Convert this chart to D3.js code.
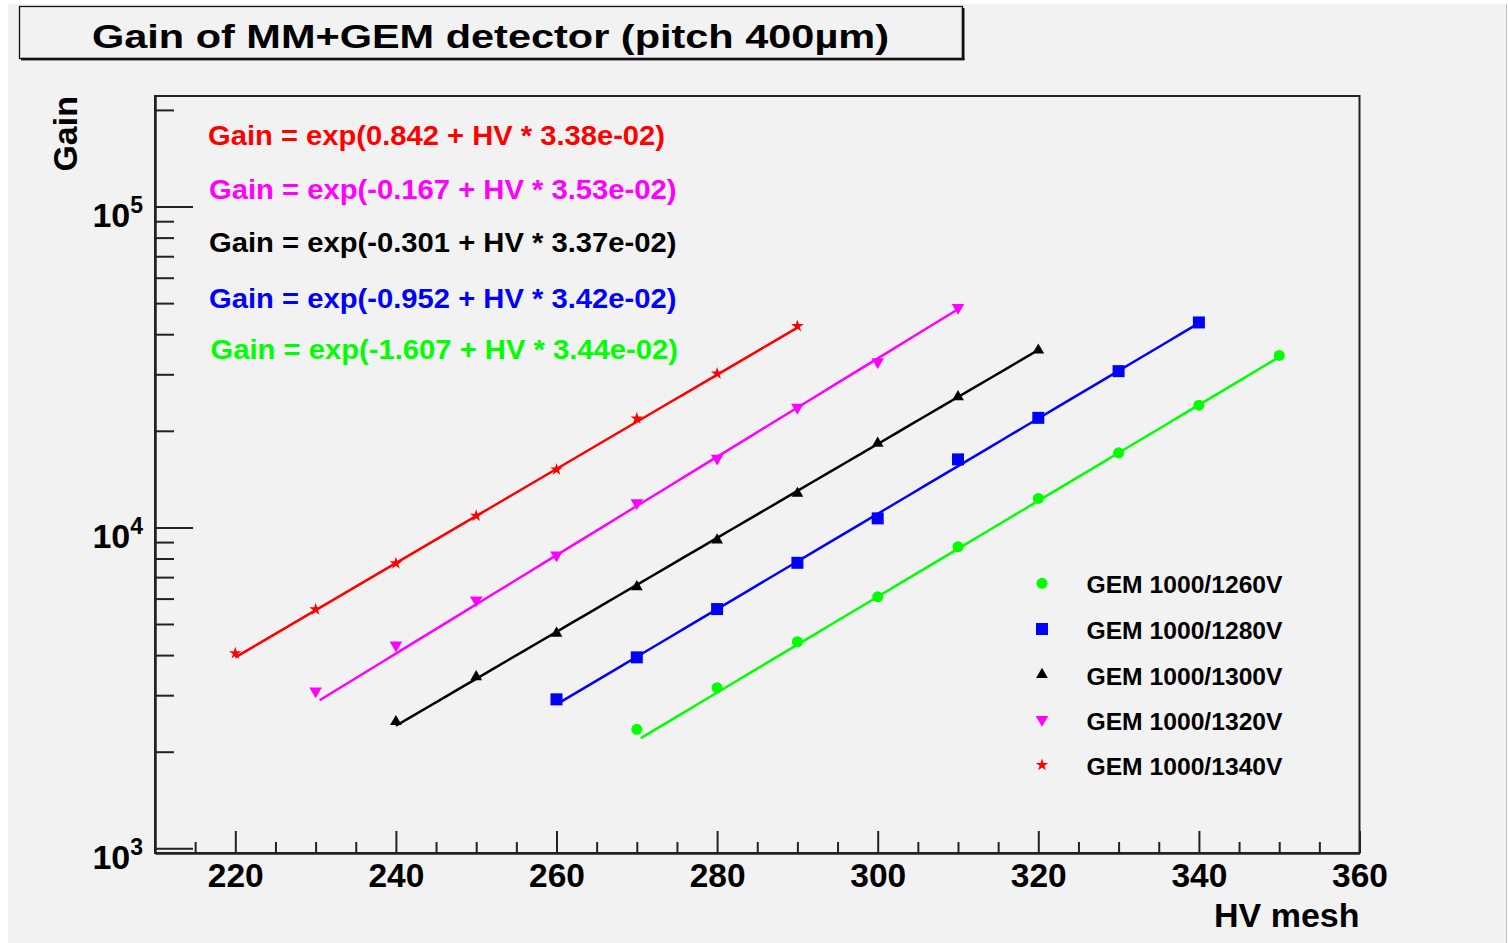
<!DOCTYPE html>
<html>
<head>
<meta charset="utf-8">
<script src="https://cdn.jsdelivr.net/npm/d3@7"></script>
<style>
  html, body { margin: 0; padding: 0; background: #ffffff; }
  svg { display: block; }
  text { font-family: "Liberation Sans", Arial, Helvetica, sans-serif; font-weight: bold; }
</style>
</head>
<body>
<svg id="chart" width="1508" height="943"></svg>
<script>
// ---- measured gain vs mesh voltage, one series per GEM setting ----
const seriesNames = ["GEM 1000/1260V", "GEM 1000/1280V", "GEM 1000/1300V", "GEM 1000/1320V", "GEM 1000/1340V"];

const hv1260 = [270, 280, 290, 300, 310, 320, 330, 340, 350];
const gain1260 = [2348, 3165, 4402, 6078, 8703, 12310, 17080, 24040, 34350];

const hv1280 = [260, 270, 280, 290, 300, 310, 320, 330, 340];
const gain1280 = [2912, 3936, 5566, 7758, 10670, 16290, 21950, 30690, 43520];

const hv1300 = [240, 250, 260, 270, 280, 290, 300, 310, 320];
const gain1300 = [2480, 3424, 4675, 6531, 9130, 12760, 18270, 25520, 35670];

const hv1320 = [230, 240, 250, 260, 270, 280, 290, 300, 310];
const gain1320 = [3090, 4299, 5936, 8198, 11930, 16410, 23650, 32800, 48450];

const hv1340 = [220, 230, 240, 250, 260, 270, 280, 290];
const gain1340 = [4051, 5553, 7726, 10870, 15160, 21860, 30180, 42390];

// exponential fit Gain = exp(p0 + HV * p1) and its range, per series
const fitP0 = [-1.607, -0.952, -0.301, -0.167, 0.842];
const fitP1 = [3.44e-02, 3.42e-02, 3.37e-02, 3.53e-02, 3.38e-02];
const fitFrom = [270.5, 260, 240, 230.5, 220];
const fitTo = [350, 340, 320, 310, 290];

// axis ticks
const xMajorTicks = [220, 240, 260, 280, 300, 320, 340, 360];
const xMinorTicks = [215, 225, 230, 235, 245, 250, 255, 265, 270, 275, 285, 290, 295, 305, 310, 315, 325, 330, 335, 345, 350, 355];
const yMajorTicks = [1e3, 1e4, 1e5];
const yExponents = ["3", "4", "5"];
const yMinorTicks = [2e3, 3e3, 4e3, 5e3, 6e3, 7e3, 8e3, 9e3, 2e4, 3e4, 4e4, 5e4, 6e4, 7e4, 8e4, 9e4, 2e5];

const xDomain = [210, 360];
const yDomain = [966.8, 2.21e5];

// ---- drawing ----
const colors = ["#00ff00", "#0000ff", "#000000", "#ff00ff", "#ff0000"];
const hvs = [hv1260, hv1280, hv1300, hv1320, hv1340];
const gains = [gain1260, gain1280, gain1300, gain1320, gain1340];
const symbols = [
  { type: d3.symbolCircle, size: 95, rot: 0 },
  { type: d3.symbolSquare, size: 144, rot: 0 },
  { type: d3.symbolTriangle, size: 60, rot: 0 },
  { type: d3.symbolTriangle, size: 68, rot: 180 },
  { type: d3.symbolStar, size: 48, rot: 0 }
];

const svg = d3.select("#chart");
const W = 1508, H = 943;
const frame = { left: 155, right: 1359.5, top: 96, bottom: 853 };

// canvas background
svg.append("rect").attr("x", 8).attr("y", 4).attr("width", 1498).attr("height", H - 4).attr("fill", "#f2f2f2");
svg.append("line").attr("x1", 1506.5).attr("x2", 1506.5).attr("y1", 4).attr("y2", H)
  .attr("stroke", "#bdbdbd").attr("stroke-width", 1);

// title pave with shadow
svg.append("rect").attr("x", 21).attr("y", 57.8).attr("width", 943.5).attr("height", 2.6).attr("fill", "#111");
svg.append("rect").attr("x", 961.8).attr("y", 8).attr("width", 2.7).attr("height", 52).attr("fill", "#111");
svg.append("rect").attr("x", 19.5).attr("y", 6.5).attr("width", 943).attr("height", 52)
  .attr("fill", "none").attr("stroke", "#111").attr("stroke-width", 1.3);
svg.append("text").attr("x", 92).attr("y", 48.3)
  .attr("font-size", 32.5).attr("textLength", 797).attr("lengthAdjust", "spacingAndGlyphs")
  .attr("fill", "#000").text("Gain of MM+GEM detector (pitch 400µm)");

const x = d3.scaleLinear().domain(xDomain).range([frame.left, frame.right]);
const y = d3.scaleLog().domain(yDomain).range([frame.bottom, frame.top]);

// frame
svg.append("rect").attr("x", frame.left).attr("y", frame.top)
  .attr("width", frame.right - frame.left).attr("height", frame.bottom - frame.top)
  .attr("fill", "none").attr("stroke", "#222").attr("stroke-width", 2);

// x axis: major + minor ticks pointing into the frame
const gx = svg.append("g").attr("transform", `translate(0,${frame.bottom})`);
gx.call(d3.axisBottom(x).tickValues(xMinorTicks).tickSize(-11).tickSizeOuter(0).tickFormat(""));
const gxMaj = svg.append("g").attr("transform", `translate(0,${frame.bottom})`);
gxMaj.call(d3.axisBottom(x).tickValues(xMajorTicks).tickSize(-22).tickSizeOuter(0).tickFormat(d3.format("d")));
svg.selectAll("g.tick line").attr("stroke", "#222").attr("stroke-width", 2);
svg.selectAll(".domain").attr("stroke", "#222").attr("stroke-width", 2);
gxMaj.selectAll("text")
  .attr("y", 34).attr("dy", 0)
  .attr("font-size", 33.5).attr("font-family", null).attr("font-weight", "bold").attr("fill", "#000");

// y axis: log scale, decades with superscript exponents
const gy = svg.append("g").attr("transform", `translate(${frame.left},0)`);
gy.call(d3.axisLeft(y).tickValues(yMinorTicks).tickSize(-19).tickSizeOuter(0).tickFormat(""));
const gyMaj = svg.append("g").attr("transform", `translate(${frame.left},0)`);
gyMaj.call(d3.axisLeft(y).tickValues(yMajorTicks).tickSize(-38).tickSizeOuter(0).tickFormat(() => "10"));
svg.selectAll("g.tick line").attr("stroke", "#222").attr("stroke-width", 2);
svg.selectAll(".domain").attr("stroke", "#222").attr("stroke-width", 2);
gyMaj.selectAll("text")
  .attr("x", -12).attr("y", 20).attr("dy", 0)
  .attr("text-anchor", "end")
  .attr("font-size", 34).attr("font-family", null).attr("font-weight", "bold").attr("fill", "#000")
  .each(function (d, i) {
    d3.select(this).append("tspan").attr("dy", -14).attr("font-size", 23).text(yExponents[i]);
  });

// axis titles
svg.append("text").attr("x", frame.right).attr("y", 927)
  .attr("text-anchor", "end").attr("font-size", 34).attr("fill", "#000").text("HV mesh");
svg.append("text").attr("transform", `translate(76.5,${frame.top}) rotate(-90)`)
  .attr("text-anchor", "end").attr("font-size", 34).attr("fill", "#000").text("Gain");

// clip to the frame
svg.append("clipPath").attr("id", "plotClip").append("rect")
  .attr("x", frame.left).attr("y", frame.top)
  .attr("width", frame.right - frame.left).attr("height", frame.bottom - frame.top);
const plot = svg.append("g").attr("clip-path", "url(#plotClip)");

const line = d3.line().x(d => x(d[0])).y(d => y(d[1]));

seriesNames.forEach((name, i) => {
  // fit curve
  const n = 40;
  const pts = d3.range(n + 1).map(k => {
    const v = fitFrom[i] + (fitTo[i] - fitFrom[i]) * k / n;
    return [v, Math.exp(fitP0[i] + v * fitP1[i])];
  });
  plot.append("path").datum(pts).attr("d", line)
    .attr("fill", "none").attr("stroke", colors[i]).attr("stroke-width", 2.5);

  // data points
  const sym = d3.symbol().type(symbols[i].type).size(symbols[i].size);
  plot.append("g").selectAll("path")
    .data(hvs[i].map((v, k) => [v, gains[i][k]]))
    .join("path")
    .attr("d", sym)
    .attr("transform", d => `translate(${x(d[0])},${y(d[1])}) rotate(${symbols[i].rot})`)
    .attr("fill", colors[i]);
});

// fit results
const eqOrder = [4, 3, 2, 1, 0];
const eqX = [208, 209, 209, 209, 210.5];
const eqY = [145, 199, 251.7, 308.3, 359.3];
const eqLen = [457, 467.5, 467.5, 467.5, 467.5];
const fmtP1 = v => {
  const s = v.toExponential(2);             // e.g. 3.38e-2
  const [m, e] = s.split("e");
  const ev = parseInt(e, 10);
  return m + "e" + (ev < 0 ? "-" : "+") + String(Math.abs(ev)).padStart(2, "0");
};
eqOrder.forEach((si, j) => {
  const p0 = fitP0[si].toFixed(3);
  svg.append("text").attr("x", eqX[j]).attr("y", eqY[j])
    .attr("font-size", 28.5).attr("fill", colors[si])
    .attr("textLength", eqLen[j]).attr("lengthAdjust", "spacingAndGlyphs")
    .text(`Gain = exp(${p0} + HV * ${fmtP1(fitP1[si])})`);
});

// legend
const legY = [593.3, 639, 684.5, 729.5, 775];
seriesNames.forEach((name, i) => {
  const sym = d3.symbol().type(symbols[i].type).size(symbols[i].size);
  svg.append("path").attr("d", sym)
    .attr("transform", `translate(1042,${legY[i] - 10}) rotate(${symbols[i].rot})`)
    .attr("fill", colors[i]);
  svg.append("text").attr("x", 1086.5).attr("y", legY[i])
    .attr("font-size", 24).attr("fill", "#000")
    .attr("textLength", 196).attr("lengthAdjust", "spacingAndGlyphs")
    .text(name);
});
</script>
</body>
</html>
